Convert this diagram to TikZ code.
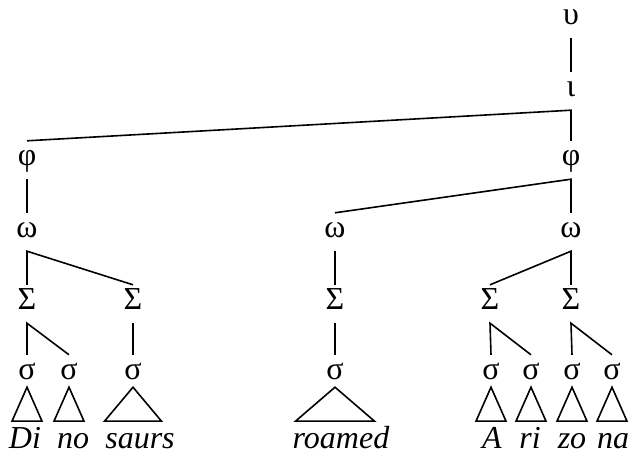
\documentclass[tikz,border=0pt]{standalone}
\usepackage{fontspec}
\setmainfont{Liberation Serif}
\begin{document}
\begin{tikzpicture}[x=1pt,y=-1pt,
  lab/.style={anchor=base,inner sep=0pt,text height=25pt,text depth=13pt,font=\fontsize{32}{38}\selectfont},
  wd/.style={anchor=base,inner sep=0pt,font=\fontsize{32}{38}\selectfont\itshape},
  edge/.style={line width=1.6pt},
  tri/.style={line width=1.6pt,line join=miter}]
\useasboundingbox (0,0) rectangle (630,457);
% prosodic labels
\node[lab] (u)  at (571,25)  {υ};
\node[lab] (i)  at (571,97)  {ι};
\node[lab] (pL) at (27,166)  {φ};
\node[lab] (pR) at (571,166) {φ};
\node[lab] (wL) at (27,238)  {ω};
\node[lab] (wM) at (335,238) {ω};
\node[lab] (wR) at (571,238) {ω};
\node[lab] (F1) at (27,310)  {Σ};
\node[lab] (F2) at (133,310) {Σ};
\node[lab] (F3) at (335,310) {Σ};
\node[lab] (F4) at (490,310) {Σ};
\node[lab] (F5) at (571,310) {Σ};
\node[lab] (s1) at (27,380)  {σ};
\node[lab] (s2) at (69,380)  {σ};
\node[lab] (s3) at (133,380) {σ};
\node[lab] (s4) at (335,380) {σ};
\node[lab] (s5) at (491,380) {σ};
\node[lab] (s6) at (531,380) {σ};
\node[lab] (s7) at (572,380) {σ};
\node[lab] (s8) at (612,380) {σ};
% words
\node[wd] (t1) at (25,448)  {Di};
\node[wd] (t2) at (73,448)  {no};
\node[wd] (t3) at (140,448) {saurs};
\node[wd] (t4) at (341,448) {roamed};
\node[wd] (t5) at (492,448) {A};
\node[wd] (t6) at (530,448) {ri};
\node[wd] (t7) at (572,448) {zo};
\node[wd] (t8) at (613,448) {na};
% edges
\draw[edge] (u.south) -- (i.north);
\draw[edge] (pL.north) -- (i.south) -- (pR.north);
\draw[edge] (pL.south) -- (wL.north);
\draw[edge] (wM.north) -- (pR.south) -- (wR.north);
\draw[edge] (F1.north) -- (wL.south) -- (F2.north);
\draw[edge] (wM.south) -- (F3.north);
\draw[edge] (F4.north) -- (wR.south) -- (F5.north);
\draw[edge] (s1.north) -- (F1.south) -- (s2.north);
\draw[edge] (F2.south) -- (s3.north);
\draw[edge] (F3.south) -- (s4.north);
\draw[edge] (s5.north) -- (F4.south) -- (s6.north);
\draw[edge] (s7.north) -- (F5.south) -- (s8.north);
% triangles
\foreach \s/\w in {s1/15,s2/15,s3/28.5,s4/39.5,s5/15,s6/15,s7/15,s8/15}{
  \draw[tri] ([yshift=6pt]\s.south) -- ([xshift=-\w pt,yshift=-28pt]\s.south)
    -- ([xshift=\w pt,yshift=-28pt]\s.south) -- cycle;
}
\end{tikzpicture}
\end{document}
